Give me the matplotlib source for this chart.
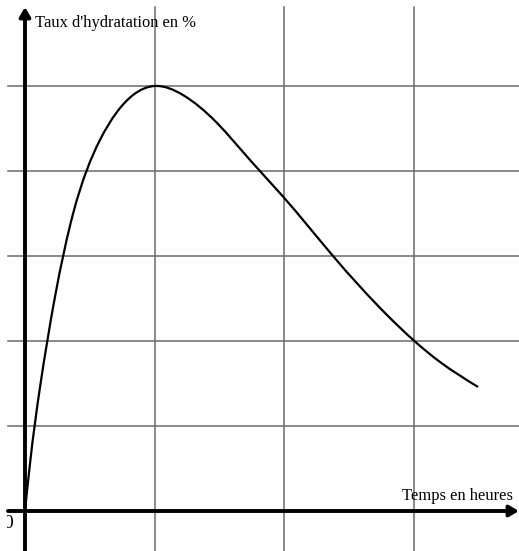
import matplotlib
matplotlib.use("Agg")
import matplotlib.pyplot as plt
import numpy as np
from matplotlib.path import Path
from matplotlib.patches import PathPatch
from matplotlib.transforms import Bbox, TransformedBbox

# Data (x in grid units of time, y in grid units of hydration)
time_h = [0.0, 0.039, 0.116, 0.231, 0.372, 0.578, 0.833, 1.0, 1.218,
          1.480, 1.735, 1.989, 2.375, 2.791, 3.20, 3.493]
hydration = [0.0, 0.565, 1.459, 2.518, 3.506, 4.365, 4.894, 5.0, 4.894,
             4.566, 4.129, 3.70, 3.0, 2.306, 1.753, 1.459]
x_grid = [1, 2, 3]
y_grid = [1, 2, 3, 4, 5]

W, H = 519, 551
fig = plt.figure(figsize=(W / 100, H / 100), dpi=100)
ax = fig.add_axes([0, 0, 1, 1])
sx, sy = 129.7, 85.0
x0p, y0p = 25.0, 511.0
xmin, xmax = -x0p / sx, (W - x0p) / sx
ymin, ymax = (y0p - H) / sy, y0p / sy
ax.set_xlim(xmin, xmax)
ax.set_ylim(ymin, ymax)
ax.axis("off")

def px_x(p):
    return (p - x0p) / sx

def px_y(p):
    return (y0p - p) / sy

grid_col = "#6a6a6a"
for gx in x_grid:
    ax.plot([gx, gx], [ymin, px_y(7)], color=grid_col, lw=1.1, zorder=1)
for gy in y_grid:
    ax.plot([px_x(8), xmax], [gy, gy], color=grid_col, lw=1.1, zorder=1)

# Axes with arrows
arrow = dict(arrowstyle="-|>,head_length=0.55,head_width=0.32",
             lw=2.8, color="black", shrinkA=0, shrinkB=0)
ax.annotate("", xy=(px_x(519), 0), xytext=(px_x(8), 0),
            arrowprops=arrow, annotation_clip=False, zorder=3)
ax.annotate("", xy=(0, px_y(7)), xytext=(0, ymin),
            arrowprops=arrow, annotation_clip=False, zorder=3)

# Smooth curve through the read points: natural cubic spline drawn as exact Bezier path
x = np.asarray(time_h, float)
y = np.asarray(hydration, float)
n = len(x)
h = np.diff(x)
A = np.zeros((n, n))
r = np.zeros(n)
A[0, 0] = A[-1, -1] = 1.0
for i in range(1, n - 1):
    A[i, i - 1] = h[i - 1]
    A[i, i] = 2 * (h[i - 1] + h[i])
    A[i, i + 1] = h[i]
    r[i] = 6 * ((y[i + 1] - y[i]) / h[i] - (y[i] - y[i - 1]) / h[i - 1])
Mk = np.linalg.solve(A, r)
verts = [(x[0], y[0])]
codes = [Path.MOVETO]
for i in range(n - 1):
    hi = h[i]
    s = (y[i + 1] - y[i]) / hi
    d0 = s - hi * (2 * Mk[i] + Mk[i + 1]) / 6
    d1 = s + hi * (Mk[i] + 2 * Mk[i + 1]) / 6
    verts += [(x[i] + hi / 3, y[i] + d0 * hi / 3),
              (x[i + 1] - hi / 3, y[i + 1] - d1 * hi / 3),
              (x[i + 1], y[i + 1])]
    codes += [Path.CURVE4] * 3
ax.add_patch(PathPatch(Path(verts, codes), facecolor="none", edgecolor="black",
                       lw=1.6, zorder=4))

font = "Liberation Serif"
ax.text(px_x(35), px_y(27), "Taux d'hydratation en %", fontsize=11.9,
        family=font, ha="left", va="baseline", zorder=5)
ax.text(px_x(402), px_y(500), "Temps en heures", fontsize=11.9,
        family=font, ha="left", va="baseline", zorder=5)
t = ax.text(px_x(13.5), px_y(528), "0", fontsize=14, family=font,
            ha="right", va="baseline", zorder=5, clip_on=True)
t.set_clip_box(TransformedBbox(Bbox([[px_x(7), px_y(540)], [px_x(20), px_y(510)]]),
                               ax.transData))

fig.savefig("out.png", dpi=100)
